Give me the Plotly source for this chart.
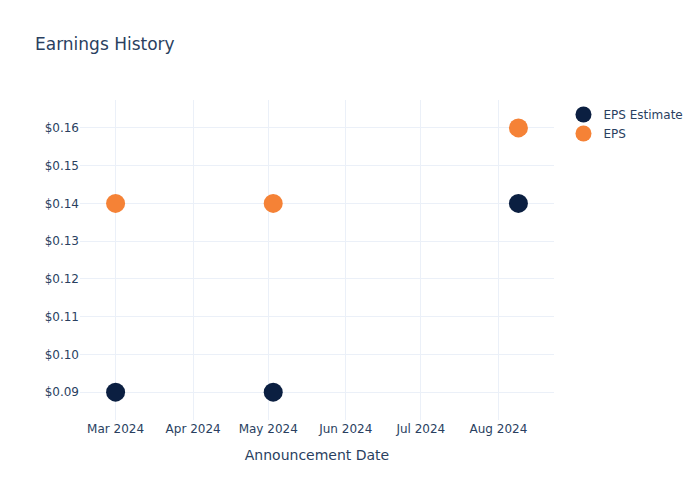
import plotly.graph_objects as go

dates = ["2024-03-01", "2024-05-03", "2024-08-09"]
eps_estimate = [0.09, 0.09, 0.14]
eps_actual = [0.14, 0.14, 0.16]

fig = go.Figure()
fig.add_trace(go.Scatter(x=dates, y=eps_estimate, mode="markers", name="EPS Estimate",
                         marker=dict(color="#0b1f41", size=19)))
fig.add_trace(go.Scatter(x=dates, y=eps_actual, mode="markers", name="EPS",
                         marker=dict(color="#f58236", size=19)))
fig.update_layout(
    template="plotly_white",
    width=700, height=500,
    font=dict(family="DejaVu Sans"),
    title=dict(text="Earnings History"),
    xaxis=dict(title=dict(text="Announcement Date")),
    yaxis=dict(tickformat="$.2f", dtick=0.01),
)
fig.write_html("out.html", config={"displayModeBar": False},
               post_script="document.body.style.margin='0';")
